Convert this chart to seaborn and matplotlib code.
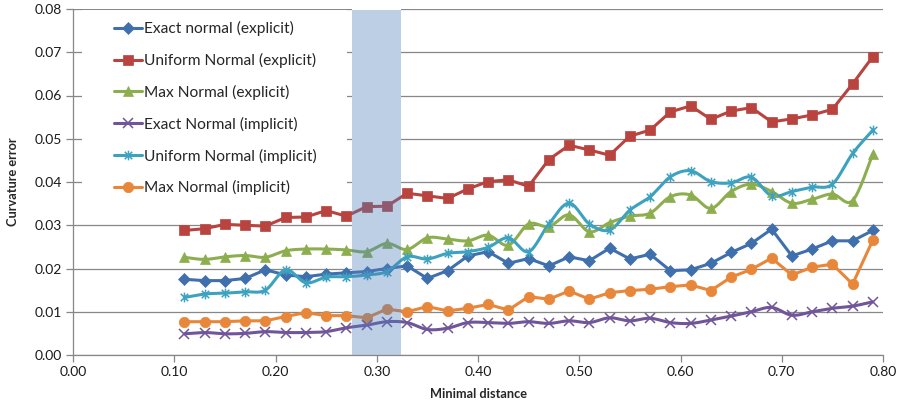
import numpy as np
import pandas as pd
import matplotlib
matplotlib.use("Agg")
import matplotlib.pyplot as plt
from matplotlib.lines import Line2D
from matplotlib.patches import Rectangle
from matplotlib.path import Path
import seaborn as sns

# Minimal distance samples
min_distance = [0.11, 0.13, 0.15, 0.17, 0.19, 0.21, 0.23, 0.25, 0.27, 0.29,
                0.31, 0.33, 0.35, 0.37, 0.39, 0.41, 0.43, 0.45, 0.47, 0.49,
                0.51, 0.53, 0.55, 0.57, 0.59, 0.61, 0.63, 0.65, 0.67, 0.69,
                0.71, 0.73, 0.75, 0.77, 0.79]

exact_explicit = [0.0175, 0.0172, 0.0172, 0.0177, 0.0197, 0.0185, 0.0181, 0.0187, 0.0190, 0.0193,
                  0.0200, 0.0206, 0.0177, 0.0195, 0.0229, 0.0239, 0.0212, 0.0223, 0.0206, 0.0227,
                  0.0218, 0.0247, 0.0222, 0.0233, 0.0195, 0.0197, 0.0212, 0.0237, 0.0258, 0.0291,
                  0.0229, 0.0245, 0.0264, 0.0264, 0.0288]

uniform_explicit = [0.0288, 0.0292, 0.0302, 0.0300, 0.0298, 0.0318, 0.0319, 0.0334, 0.0321, 0.0343,
                    0.0344, 0.0374, 0.0368, 0.0362, 0.0384, 0.0401, 0.0405, 0.0390, 0.0452, 0.0485,
                    0.0474, 0.0462, 0.0506, 0.0520, 0.0562, 0.0576, 0.0545, 0.0564, 0.0572, 0.0539,
                    0.0546, 0.0555, 0.0568, 0.0627, 0.0690]

max_explicit = [0.0226, 0.0221, 0.0227, 0.0230, 0.0226, 0.0241, 0.0245, 0.0245, 0.0243, 0.0239,
                0.0258, 0.0244, 0.0271, 0.0268, 0.0264, 0.0277, 0.0254, 0.0303, 0.0297, 0.0324,
                0.0285, 0.0306, 0.0321, 0.0328, 0.0366, 0.0370, 0.0339, 0.0378, 0.0395, 0.0378,
                0.0351, 0.0360, 0.0372, 0.0357, 0.0465]

exact_implicit = [0.0049, 0.0052, 0.0049, 0.0050, 0.0054, 0.0052, 0.0052, 0.0054, 0.0063, 0.0069,
                  0.0077, 0.0075, 0.0059, 0.0062, 0.0075, 0.0075, 0.0073, 0.0077, 0.0073, 0.0079,
                  0.0075, 0.0086, 0.0079, 0.0085, 0.0075, 0.0073, 0.0081, 0.0090, 0.0100, 0.0110,
                  0.0092, 0.0100, 0.0108, 0.0113, 0.0123]

uniform_implicit = [0.0133, 0.0141, 0.0143, 0.0146, 0.0150, 0.0197, 0.0167, 0.0180, 0.0181, 0.0185,
                    0.0193, 0.0227, 0.0222, 0.0235, 0.0239, 0.0249, 0.0271, 0.0239, 0.0303, 0.0351,
                    0.0303, 0.0289, 0.0335, 0.0366, 0.0412, 0.0426, 0.0401, 0.0398, 0.0411, 0.0368,
                    0.0378, 0.0388, 0.0395, 0.0466, 0.0520]

max_implicit = [0.0077, 0.0077, 0.0077, 0.0079, 0.0079, 0.0089, 0.0098, 0.0091, 0.0091, 0.0086,
                0.0106, 0.0100, 0.0112, 0.0102, 0.0108, 0.0117, 0.0104, 0.0135, 0.0129, 0.0148,
                0.0129, 0.0144, 0.0149, 0.0152, 0.0158, 0.0162, 0.0149, 0.0180, 0.0198, 0.0224,
                0.0185, 0.0203, 0.0210, 0.0164, 0.0266]

series_labels = ["Exact normal (explicit)", "Uniform Normal (explicit)", "Max Normal (explicit)",
                 "Exact Normal (implicit)", "Uniform Normal (implicit)", "Max Normal (implicit)"]

x_ticks = [0.0, 0.1, 0.2, 0.3, 0.4, 0.5, 0.6, 0.7, 0.8]
y_ticks = [0.0, 0.01, 0.02, 0.03, 0.04, 0.05, 0.06, 0.07, 0.08]
highlight_range = [0.2756, 0.3240]

# asterisk-like marker: an X with a vertical bar
star_path = Path([(-1, -1), (1, 1), (-1, 1), (1, -1), (0, -1.3), (0, 1.3)],
                 [Path.MOVETO, Path.LINETO, Path.MOVETO, Path.LINETO, Path.MOVETO, Path.LINETO])

styles = [
    dict(values=exact_explicit, color="#3f70ad", marker="D", ms=6.0, smooth=False),
    dict(values=uniform_explicit, color="#b8433f", marker="s", ms=7.0, smooth=False),
    dict(values=max_explicit, color="#8dae4f", marker="^", ms=7.5, smooth=True),
    dict(values=exact_implicit, color="#70559a", marker="x", ms=6.5, smooth=True),
    dict(values=uniform_implicit, color="#3ca2bf", marker=star_path, ms=7.0, smooth=True),
    dict(values=max_implicit, color="#e8863a", marker="o", ms=7.5, smooth=False),
]


def smooth_curve(xs, ys, n=16):
    """Cubic Bezier curve through the points (Catmull-Rom style tangents)."""
    pts = np.column_stack([xs, ys])
    out = [pts[0]]
    m = len(pts)
    t = np.linspace(0, 1, n + 1)[1:]
    for i in range(m - 1):
        p0 = pts[max(i - 1, 0)]
        p1 = pts[i]
        p2 = pts[i + 1]
        p3 = pts[min(i + 2, m - 1)]
        c1 = p1 + (p2 - p0) / 6.0
        c2 = p2 - (p3 - p1) / 6.0
        seg = ((1 - t) ** 3)[:, None] * p1 + (3 * (1 - t) ** 2 * t)[:, None] * c1 \
            + (3 * (1 - t) * t ** 2)[:, None] * c2 + (t ** 3)[:, None] * p2
        out.extend(seg)
    out = np.array(out)
    return out[:, 0], out[:, 1]


sns.set_theme(style="white")
plt.rcParams["font.family"] = ["Lato", "DejaVu Sans"]

fig = plt.figure(figsize=(8.97, 4.05), dpi=100)
ax = fig.add_axes([73 / 897, 50 / 405, 810 / 897, 346 / 405])

grid_color = "#878787"
ax.set_axisbelow(True)
ax.yaxis.grid(True, color=grid_color, linewidth=0.9, zorder=0.5)
ax.xaxis.grid(False)

lw = 2.2
handles = []
for label, st in zip(series_labels, styles):
    vals = st["values"]
    thin_marker = st["marker"] == "x" or isinstance(st["marker"], Path)
    mk_kw = dict(marker=st["marker"], markersize=st["ms"], color=st["color"],
                 markeredgecolor=st["color"], markerfacecolor=st["color"],
                 markeredgewidth=1.1 if thin_marker else 0.5)
    if st["smooth"]:
        sx, sy = smooth_curve(np.array(min_distance), np.array(vals))
        sns.lineplot(x=sx, y=sy, sort=False, color=st["color"], linewidth=lw, ax=ax,
                     zorder=2, estimator=None)
        sns.lineplot(x=min_distance, y=vals, linestyle="", ax=ax, zorder=3,
                     estimator=None, **mk_kw)
    else:
        sns.lineplot(x=min_distance, y=vals, linewidth=lw, ax=ax, zorder=2,
                     estimator=None, **mk_kw)
    handles.append(Line2D([], [], linewidth=lw, **mk_kw))

# legend area sits on a white panel over the grid
ax.add_patch(Rectangle((9 / 810, 155 / 346), 265 / 810, 190 / 346, transform=ax.transAxes,
                       facecolor="white", edgecolor="none", zorder=1.5))

# highlighted distance band
ax.axvspan(*highlight_range, color="white", zorder=1.5, linewidth=0)
ax.axvspan(*highlight_range, ymin=0, ymax=0.997, color="#4f81bd", alpha=0.38,
           zorder=5, linewidth=0)

leg = ax.legend(handles, series_labels, loc="upper left", bbox_to_anchor=(0.050, 0.965),
                frameon=False, fontsize=11.2, handlelength=1.8, handletextpad=0.13,
                labelspacing=1.08, borderpad=0, borderaxespad=0)

ax.set_xlim(0, 0.8)
ax.set_ylim(0, 0.08)
ax.set_xticks(x_ticks)
ax.set_yticks(y_ticks)
ax.set_xticklabels([f"{v:.2f}" for v in x_ticks])
ax.set_yticklabels([f"{v:.2f}" for v in y_ticks])
ax.tick_params(axis="both", which="major", direction="out", length=5, width=0.9,
               color=grid_color, labelsize=10, labelcolor="#1a1a1a", pad=3,
               left=True, bottom=True)

for side in ("top", "right"):
    ax.spines[side].set_visible(False)
for side in ("left", "bottom"):
    ax.spines[side].set_color(grid_color)
    ax.spines[side].set_linewidth(0.9)

ax.set_xlabel("Minimal distance", fontsize=9.2, fontweight="bold", labelpad=7)
ax.set_ylabel("Curvature error", fontsize=9.2, fontweight="bold", labelpad=11)

fig.savefig("out.png", dpi=100)
